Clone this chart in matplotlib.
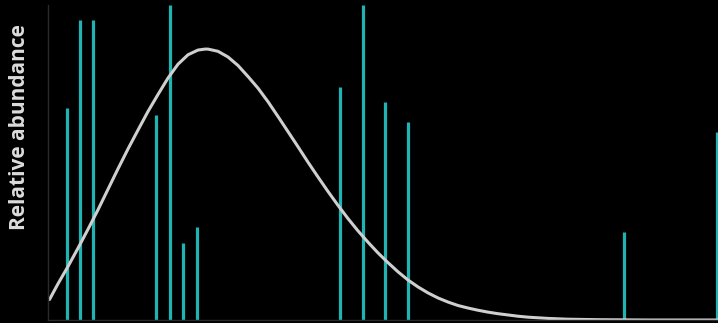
import matplotlib
matplotlib.use("Agg")
import matplotlib.pyplot as plt

# peak positions (arbitrary m/z units) and relative heights
peak_x = [1.9, 3.2, 4.5, 10.8, 12.2, 13.5, 14.9, 29.2, 31.5, 33.7, 36.0, 57.6, 66.9]
peak_y = [67.3, 95.2, 95.2, 65.1, 100.0, 24.4, 29.5, 74.0, 100.0, 69.2, 62.9, 27.9, 59.7]

# envelope curve sampled along the spectrum
env_x = [0.15, 1, 2, 3, 4, 5, 6, 7, 8, 9, 10, 11, 12, 13, 14, 15, 15.7, 16, 17, 18,
         19, 20, 21, 22, 23, 24, 25, 26, 27, 28, 29, 30, 31, 32, 33, 34, 35, 36,
         37, 38, 39, 40, 41, 42, 43, 44, 45, 46, 47, 48, 50, 52, 55, 60, 67]
env_y = [6.5, 11.5, 17.0, 22.8, 28.8, 35.0, 41.5, 48.0, 54.3, 60.3, 66.2, 71.6,
         76.8, 81.2, 84.2, 85.7, 86.0, 86.0, 85.3, 83.5, 80.8, 77.3, 73.6, 69.3,
         64.6, 59.8, 55.0, 50.1, 45.4, 40.8, 36.4, 32.2, 28.3, 24.7, 21.3, 18.2,
         15.3, 12.7, 10.5, 8.6, 7.0, 5.7, 4.6, 3.8, 3.1, 2.5, 2.0, 1.6, 1.2, 0.9,
         0.5, 0.25, 0.1, 0.0, 0.0]

fig = plt.figure(figsize=(7.18, 3.23), dpi=100, facecolor="black")
ax = fig.add_axes([48 / 718, 3 / 323, 670 / 718, 315 / 323], facecolor="black")

ax.vlines(peak_x, 0, peak_y, color="#1fb3b3", linewidth=2.3)
ax.plot(env_x, env_y, color="#cfcfcf", linewidth=2.2,
        solid_capstyle="round", solid_joinstyle="round")

ax.set_xlim(0, 67.0)
ax.set_ylim(0, 100)
ax.set_xticks([])
ax.set_yticks([])
for side in ["top", "right"]:
    ax.spines[side].set_visible(False)
for side in ["left", "bottom"]:
    ax.spines[side].set_color("#2a2a2a")
    ax.spines[side].set_linewidth(1.0)

fig.text(20 / 718, 1 - 127 / 323, "Relative abundance", rotation=90,
         ha="center", va="center", color="#dcdcdc", fontsize=15,
         fontweight="bold", family="Open Sans")

fig.savefig("out.png", dpi=100, facecolor="black")
